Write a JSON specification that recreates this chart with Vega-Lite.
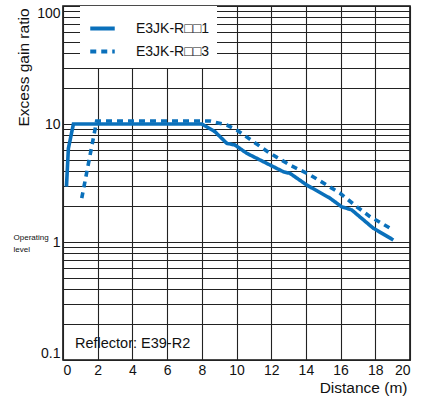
{
  "$schema": "https://vega.github.io/schema/vega-lite/v6.json",
  "width": 347,
  "height": 354,
  "autosize": {"type": "none"},
  "padding": {"left": 63, "top": 6, "right": 12, "bottom": 38},
  "background": "white",
  "config": {
    "font": "Liberation Sans",
    "view": {"stroke": "#111", "strokeWidth": 1.6},
    "axis": {"gridColor": "#222", "gridWidth": 1.1, "gridOpacity": 1, "domain": false, "ticks": false, "labelColor": "#111", "titleColor": "#111", "titleFontWeight": "normal"}
  },
  "datasets": {
    "curves": [
      {"series": "E3JK-R□□1", "distance": 0.2, "gain": 2.95},
      {"series": "E3JK-R□□1", "distance": 0.31, "gain": 6.2},
      {"series": "E3JK-R□□1", "distance": 0.6, "gain": 10},
      {"series": "E3JK-R□□1", "distance": 8.0, "gain": 10},
      {"series": "E3JK-R□□1", "distance": 8.76, "gain": 8.6},
      {"series": "E3JK-R□□1", "distance": 9.44, "gain": 6.86},
      {"series": "E3JK-R□□1", "distance": 9.91, "gain": 6.64},
      {"series": "E3JK-R□□1", "distance": 10.59, "gain": 5.65},
      {"series": "E3JK-R□□1", "distance": 11.74, "gain": 4.64},
      {"series": "E3JK-R□□1", "distance": 12.7, "gain": 3.94},
      {"series": "E3JK-R□□1", "distance": 13.08, "gain": 3.82},
      {"series": "E3JK-R□□1", "distance": 14.05, "gain": 3.04},
      {"series": "E3JK-R□□1", "distance": 15.39, "gain": 2.35},
      {"series": "E3JK-R□□1", "distance": 16.06, "gain": 1.99},
      {"series": "E3JK-R□□1", "distance": 16.64, "gain": 1.87},
      {"series": "E3JK-R□□1", "distance": 17.88, "gain": 1.31},
      {"series": "E3JK-R□□1", "distance": 19.04, "gain": 1.04},
      {"series": "E3JK-R□□3", "distance": 1.08, "gain": 2.35},
      {"series": "E3JK-R□□3", "distance": 1.94, "gain": 10.6},
      {"series": "E3JK-R□□3", "distance": 8.47, "gain": 10.6},
      {"series": "E3JK-R□□3", "distance": 9.44, "gain": 9.8},
      {"series": "E3JK-R□□3", "distance": 10.01, "gain": 8.9},
      {"series": "E3JK-R□□3", "distance": 10.97, "gain": 7.08},
      {"series": "E3JK-R□□3", "distance": 11.93, "gain": 5.65},
      {"series": "E3JK-R□□3", "distance": 13.08, "gain": 4.49},
      {"series": "E3JK-R□□3", "distance": 14.24, "gain": 3.7},
      {"series": "E3JK-R□□3", "distance": 15.2, "gain": 3.04},
      {"series": "E3JK-R□□3", "distance": 15.97, "gain": 2.59},
      {"series": "E3JK-R□□3", "distance": 16.93, "gain": 1.99},
      {"series": "E3JK-R□□3", "distance": 17.7, "gain": 1.64},
      {"series": "E3JK-R□□3", "distance": 18.85, "gain": 1.31}
    ],
    "notes": [
      {"distance": 0.69, "gain": 0.137, "label": "Reflector: E39-R2"}
    ],
    "side": [
      {"distance": -2.85, "gain": 1.16, "label": ["Operating", "level"]}
    ]
  },
  "layer": [
    {
      "data": {"name": "curves"},
      "mark": {"type": "line", "color": "#0a70bb", "strokeWidth": 3.6, "strokeCap": "butt"},
      "encoding": {
        "x": {
          "field": "distance", "type": "quantitative",
          "scale": {"domain": [0, 20], "nice": false, "zero": false},
          "axis": {
            "values": [0, 2, 4, 6, 8, 10, 12, 14, 16, 18, 20],
            "tickCount": 40, "format": "d",
            "grid": true, "labelFontSize": 14,
            "labelPadding": 3, "labelFlush": 4, "labelOverlap": false,
            "title": "Distance (m)", "titleFontSize": 15.5,
            "titleAnchor": "end", "titleAlign": "right", "titleBaseline": "middle",
            "titleX": 344, "titleY": 27
          }
        },
        "y": {
          "field": "gain", "type": "quantitative",
          "scale": {"type": "log", "domain": [0.1, 100], "nice": false},
          "axis": {
            "values": [0.1, 0.2, 0.3, 0.4, 0.5, 0.6, 0.7, 0.8, 0.9, 1, 2, 3, 4, 5, 6, 7, 8, 9, 10, 20, 30, 40, 50, 60, 70, 80, 90, 100],
            "tickCount": 40, "format": "~g",
            "labelExpr": "(datum.value == 0.1 || datum.value == 1 || datum.value == 10 || datum.value == 100) ? datum.label : ''",
            "grid": true, "labelFontSize": 14, "labelPadding": 3, "labelFlush": true, "labelOverlap": false,
            "title": "Excess gain ratio", "titleFontSize": 15.5,
            "titleAngle": -90, "titleAlign": "right", "titleBaseline": "middle",
            "titleX": -40, "titleY": 2
          }
        },
        "strokeDash": {
          "field": "series", "type": "nominal",
          "scale": {"domain": ["E3JK-R□□1", "E3JK-R□□3"], "range": [[1, 0], [6, 5]]},
          "legend": {
            "title": null, "orient": "none", "legendX": 17, "legendY": 0,
            "padding": 8, "fillColor": "white", "strokeColor": null,
            "symbolType": "stroke", "symbolSize": 600, "symbolStrokeWidth": 4,
            "symbolStrokeColor": "#0a70bb", "labelFontSize": 14, "labelOffset": 19,
            "rowPadding": 0, "labelColor": "#111"
          }
        }
      }
    },
    {
      "data": {"name": "notes"},
      "mark": {"type": "text", "align": "left", "baseline": "middle", "fontSize": 14.5, "color": "#111"},
      "encoding": {
        "x": {"field": "distance", "type": "quantitative"},
        "y": {"field": "gain", "type": "quantitative"},
        "text": {"field": "label"}
      }
    },
    {
      "data": {"name": "side"},
      "mark": {"type": "text", "align": "left", "baseline": "top", "fontSize": 8, "lineHeight": 12, "color": "#111"},
      "encoding": {
        "x": {"field": "distance", "type": "quantitative"},
        "y": {"field": "gain", "type": "quantitative"},
        "text": {"field": "label"}
      }
    }
  ]
}
